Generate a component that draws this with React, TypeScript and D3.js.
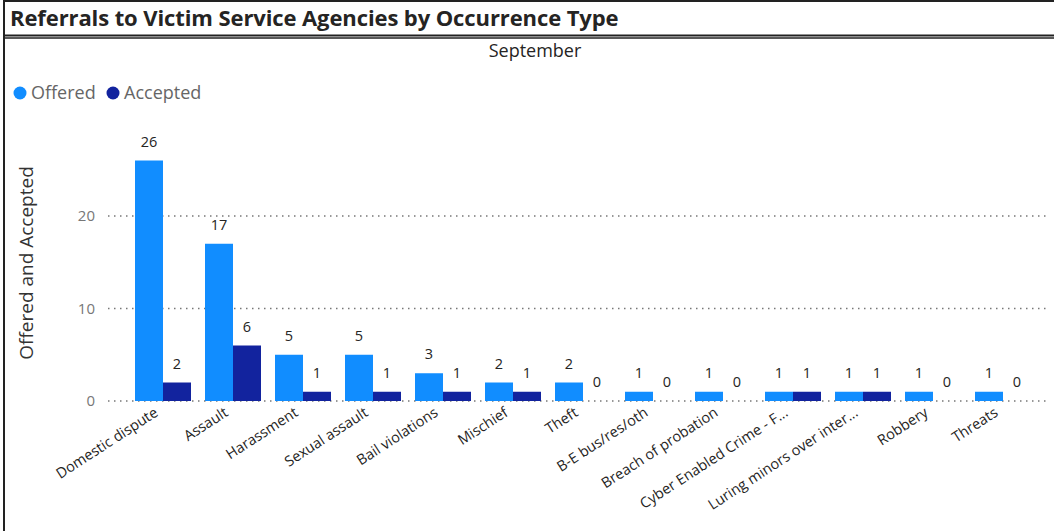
import React from "react";
import * as d3 from "d3";

const categories = [
  "Domestic dispute",
  "Assault",
  "Harassment",
  "Sexual assault",
  "Bail violations",
  "Mischief",
  "Theft",
  "B-E bus/res/oth",
  "Breach of probation",
  "Cyber Enabled Crime - F...",
  "Luring minors over inter...",
  "Robbery",
  "Threats",
];
const offered = [26, 17, 5, 5, 3, 2, 2, 1, 1, 1, 1, 1, 1];
const accepted = [2, 6, 1, 1, 1, 1, 0, 0, 0, 1, 1, 0, 0];
const yTicks = [0, 10, 20];
const seriesNames = ["Offered", "Accepted"];
const seriesColors = ["#118DFF", "#12239E"];

const W = 1054;
const H = 531;
const FONT = "'Segoe UI', 'Open Sans', 'Noto Sans', sans-serif";

export default function App() {
  const x = d3.scaleBand<string>().domain(categories).range([128, 1038]).paddingInner(0.2).paddingOuter(0.1);
  const xs = d3.scaleBand<string>().domain(seriesNames).range([0, x.bandwidth()]);
  const y = d3.scaleLinear().domain([0, 20]).range([401, 216]);
  const series = [offered, accepted];

  return (
    <svg width={W} height={H} style={{ position: "fixed", left: 0, top: 0, background: "#fff" }} fontFamily={FONT}>
      <rect x={0} y={0} width={W} height={H} fill="#fff" />
      {/* title box */}
      <line x1={3} x2={W} y1={1} y2={1} stroke="#222" strokeWidth={2} />
      <line x1={3} x2={W} y1={35.5} y2={35.5} stroke="#222" strokeWidth={2} />
      <line x1={3} x2={W} y1={38} y2={38} stroke="#222" strokeWidth={1.5} />
      <line x1={4} x2={4} y1={0} y2={H} stroke="#222" strokeWidth={2} />
      <text x={10} y={26} fontSize={22} fontWeight={700} fill="#252423" fontFamily="'Open Sans', sans-serif" letterSpacing={-0.1}>
        Referrals to Victim Service Agencies by Occurrence Type
      </text>
      <text x={535} y={57} fontSize={18} textAnchor="middle" fill="#252423">September</text>
      {/* legend */}
      {seriesNames.map((s, i) => {
        const lx = [20, 113][i];
        return (
          <g key={s}>
            <circle cx={lx} cy={93} r={6.5} fill={seriesColors[i]} />
            <text x={lx + 11} y={99} fontSize={18} fill="#666">{s}</text>
          </g>
        );
      })}
      {/* y axis title */}
      <text transform={`translate(33,${263}) rotate(-90)`} textAnchor="middle" fontSize={19} fill="#333">
        Offered and Accepted
      </text>
      {/* grid */}
      {yTicks.map((t) => (
        <g key={t}>
          <line x1={108} x2={1050} y1={y(t)} y2={y(t)} stroke="#777" strokeWidth={1.5} strokeDasharray="1.5,4.5" />
          <text x={95} y={y(t) + 5} textAnchor="end" fontSize={15} fill="#777">{t}</text>
        </g>
      ))}
      {/* bars */}
      {categories.map((c, ci) => (
        <g key={c}>
          {series.map((vals, si) => {
            const bx = (x(c) as number) + (xs(seriesNames[si]) as number);
            const bw = xs.bandwidth();
            const v = vals[ci];
            return (
              <g key={si}>
                <rect x={bx} y={y(v)} width={bw} height={y(0) - y(v)} fill={seriesColors[si]} />
                <text x={bx + bw / 2} y={y(v) - 14} textAnchor="middle" fontSize={14.5} fill="#252423">{v}</text>
              </g>
            );
          })}
          <text
            transform={`translate(${(x(c) as number) + x.bandwidth() / 2 - 4},${415}) rotate(-33)`}
            textAnchor="end"
            fontSize={14.5}
            fill="#252423"
          >
            {c}
          </text>
        </g>
      ))}
    </svg>
  );
}
